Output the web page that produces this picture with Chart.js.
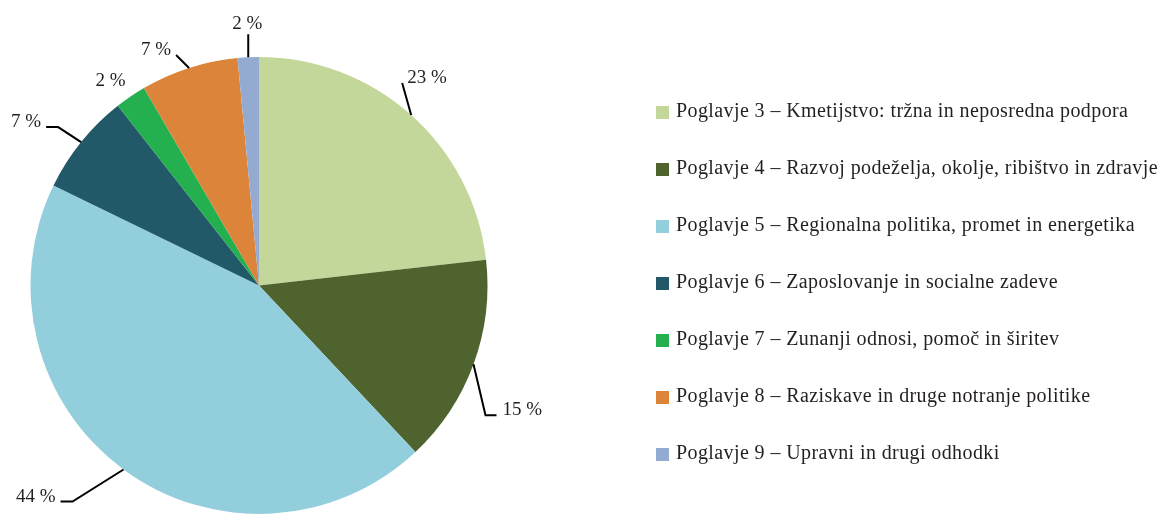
<!DOCTYPE html>
<html>
<head>
<meta charset="utf-8">
<script src="https://cdn.jsdelivr.net/npm/chart.js@4.4.0/dist/chart.umd.min.js"></script>
<style>
    html, body { margin: 0; padding: 0; background: #fff; }
    #wrap { width: 1166px; height: 514px; position: relative; }
</style>
</head>
<body>
<div id="wrap"><canvas id="pieChart"></canvas></div>
<script>
const categories = [
    'Poglavje 3 – Kmetijstvo: tržna in neposredna podpora',
    'Poglavje 4 – Razvoj podeželja, okolje, ribištvo in zdravje',
    'Poglavje 5 – Regionalna politika, promet in energetika',
    'Poglavje 6 – Zaposlovanje in socialne zadeve',
    'Poglavje 7 – Zunanji odnosi, pomoč in širitev',
    'Poglavje 8 – Raziskave in druge notranje politike',
    'Poglavje 9 – Upravni in drugi odhodki'
];
const shares = [23.2, 14.8, 44.2, 7.2, 2.2, 6.9, 1.5];
const shareLabels = ['23 %', '15 %', '44 %', '7 %', '2 %', '7 %', '2 %'];
const sliceColors = ['#c4d79b', '#4e632d', '#93cedd', '#215968', '#25b04f', '#dc843a', '#94abd1'];

// leader line shape for each slice label: bend offset from the arc edge, horizontal tail, text placement
const leaders = [
    { bend: [-9, -32], tail: 0, dx: 5, dy: 0, align: 'left' },
    { bend: [12, 51], tail: 11, dx: 6, dy: 0, align: 'left' },
    { bend: [-51, 32], tail: -12, dx: -5, dy: 0, align: 'right' },
    { bend: [-23, -15], tail: -12, dx: -5, dy: 0, align: 'right' },
    { bend: [-20, -11], tail: 0, dx: 0, dy: 0, align: 'center', noLine: true },
    { bend: [-13, -13], tail: 0, dx: -5, dy: 0, align: 'right' },
    { bend: [0, -23], tail: 0, dx: -1, dy: -5, align: 'center' }
];

const textColor = '#231f20';
const serif = '"Liberation Serif", "DejaVu Serif", serif';

const outsideLabels = {
    id: 'outsideLabels',
    afterDatasetsDraw(chart) {
        const ctx = chart.ctx;
        const arcs = chart.getDatasetMeta(0).data;
        ctx.save();
        ctx.strokeStyle = '#000';
        ctx.lineWidth = 2;
        ctx.fillStyle = textColor;
        ctx.font = '19px ' + serif;
        ctx.textBaseline = 'alphabetic';
        arcs.forEach((arc, i) => {
            const p = arc.getProps(['x', 'y', 'startAngle', 'endAngle', 'outerRadius'], true);
            const mid = (p.startAngle + p.endAngle) / 2;
            const ax = p.x + p.outerRadius * Math.cos(mid);
            const ay = p.y + p.outerRadius * Math.sin(mid);
            const l = leaders[i];
            const bx = ax + l.bend[0];
            const by = ay + l.bend[1];
            const ex = bx + l.tail;
            if (!l.noLine) {
                ctx.beginPath();
                ctx.moveTo(ax, ay);
                ctx.lineTo(bx, by);
                if (l.tail) ctx.lineTo(ex, by);
                ctx.stroke();
            }
            ctx.textAlign = l.align;
            ctx.fillText(shareLabels[i], ex + l.dx, by + l.dy);
        });
        ctx.restore();
    }
};

const sideLegend = {
    id: 'sideLegend',
    afterDraw(chart) {
        const ctx = chart.ctx;
        ctx.save();
        ctx.font = '20px ' + serif;
        ctx.letterSpacing = '0.4px';
        ctx.textBaseline = 'middle';
        ctx.textAlign = 'left';
        categories.forEach((name, i) => {
            const y = 112 + i * 57;
            ctx.fillStyle = sliceColors[i];
            ctx.fillRect(656, y - 6, 13, 13);
            ctx.fillStyle = textColor;
            ctx.fillText(name, 676, y);
        });
        ctx.restore();
    }
};

new Chart(document.getElementById('pieChart'), {
    type: 'pie',
    data: {
        labels: categories,
        datasets: [{
            data: shares,
            backgroundColor: sliceColors,
            borderWidth: 0
        }]
    },
    options: {
        responsive: true,
        maintainAspectRatio: false,
        animation: false,
        layout: {
            padding: { left: 30, top: 57, right: 678, bottom: 0 }
        },
        plugins: {
            legend: { display: false },
            tooltip: { enabled: false }
        }
    },
    plugins: [outsideLabels, sideLegend]
});
</script>
</body>
</html>
